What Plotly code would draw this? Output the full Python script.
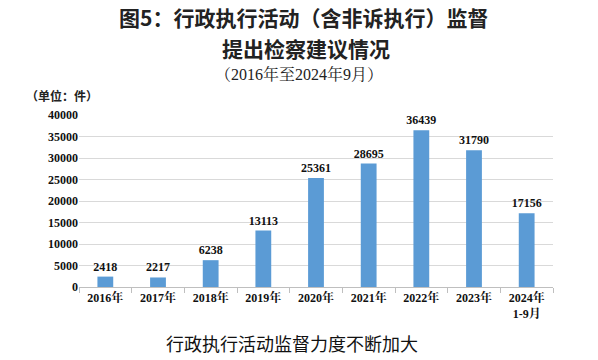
import plotly.graph_objects as go

categories = ["2016年", "2017年", "2018年", "2019年", "2020年", "2021年", "2022年", "2023年", "2024年<br>1-9月"]
values = [2418, 2217, 6238, 13113, 25361, 28695, 36439, 31790, 17156]
y_ticks = [0, 5000, 10000, 15000, 20000, 25000, 30000, 35000, 40000]

SERIF = "Liberation Serif, Noto Serif CJK SC, Noto Sans CJK SC, serif"
CJK = "Noto Sans CJK SC, Liberation Serif, serif"

fig = go.Figure()
fig.add_trace(go.Bar(
    x=categories, y=values,
    marker=dict(color="#5B9BD5", line=dict(width=0)),
    width=0.3,
    text=[f"<b>{v}</b>" for v in values],
    textposition="outside",
    constraintext="none",
    textfont=dict(family=SERIF, size=12, color="#111111"),
    cliponaxis=False,
    hoverinfo="skip",
))

fig.update_layout(
    width=598, height=360,
    margin=dict(l=79, r=45, t=115, b=73),
    paper_bgcolor="white", plot_bgcolor="white",
    showlegend=False,
    bargap=0.7,
    xaxis=dict(
        type="category",
        automargin=False,
        tickvals=categories,
        ticktext=[f"<b>{c}</b>" for c in categories],
        tickfont=dict(family=SERIF, size=12, color="#111111"),
        showline=True, linecolor="#BFBFBF", linewidth=1,
        ticks="outside", tickson="boundaries", ticklen=5, tickcolor="#BFBFBF",
        showgrid=False,
    ),
    yaxis=dict(
        range=[0, 40000],
        automargin=False,
        tickvals=y_ticks,
        ticktext=[f"<b>{t}</b>" for t in y_ticks],
        tickfont=dict(family=SERIF, size=12, color="#111111"),
        showgrid=True, gridcolor="#D9D9D9", gridwidth=1,
        zeroline=False, showline=False,
        ticks="", ticklen=0,
    ),
)

plot_top = 115
plot_h = 360 - 115 - 73
plot_left = 79
plot_w = 598 - 79 - 45

def ann(text, px, py, font):
    fig.add_annotation(
        text=text, showarrow=False, xref="paper", yref="paper",
        x=(px - plot_left) / plot_w, y=(360 - 73 - py) / plot_h,
        xanchor="center", yanchor="middle", font=font,
    )

ann("<b>图5：行政执行活动（含非诉执行）监督</b>", 303, 16.5, dict(family=CJK, size=21, color="#222222"))
ann("<b>提出检察建议情况</b>", 306, 47.5, dict(family=CJK, size=21, color="#222222"))
ann("（2016年至2024年9月）", 299, 74, dict(family=SERIF, size=16, color="#222222"))
ann("<b>（单位：件）</b>", 62, 95, dict(family=CJK, size=12, color="#222222"))
ann("行政执行活动监督力度不断加大", 292, 343, dict(family=CJK, size=18, color="#111111"))

fig.write_html("out.html", post_script="document.body.style.margin='0';",
               config={"displayModeBar": False})
